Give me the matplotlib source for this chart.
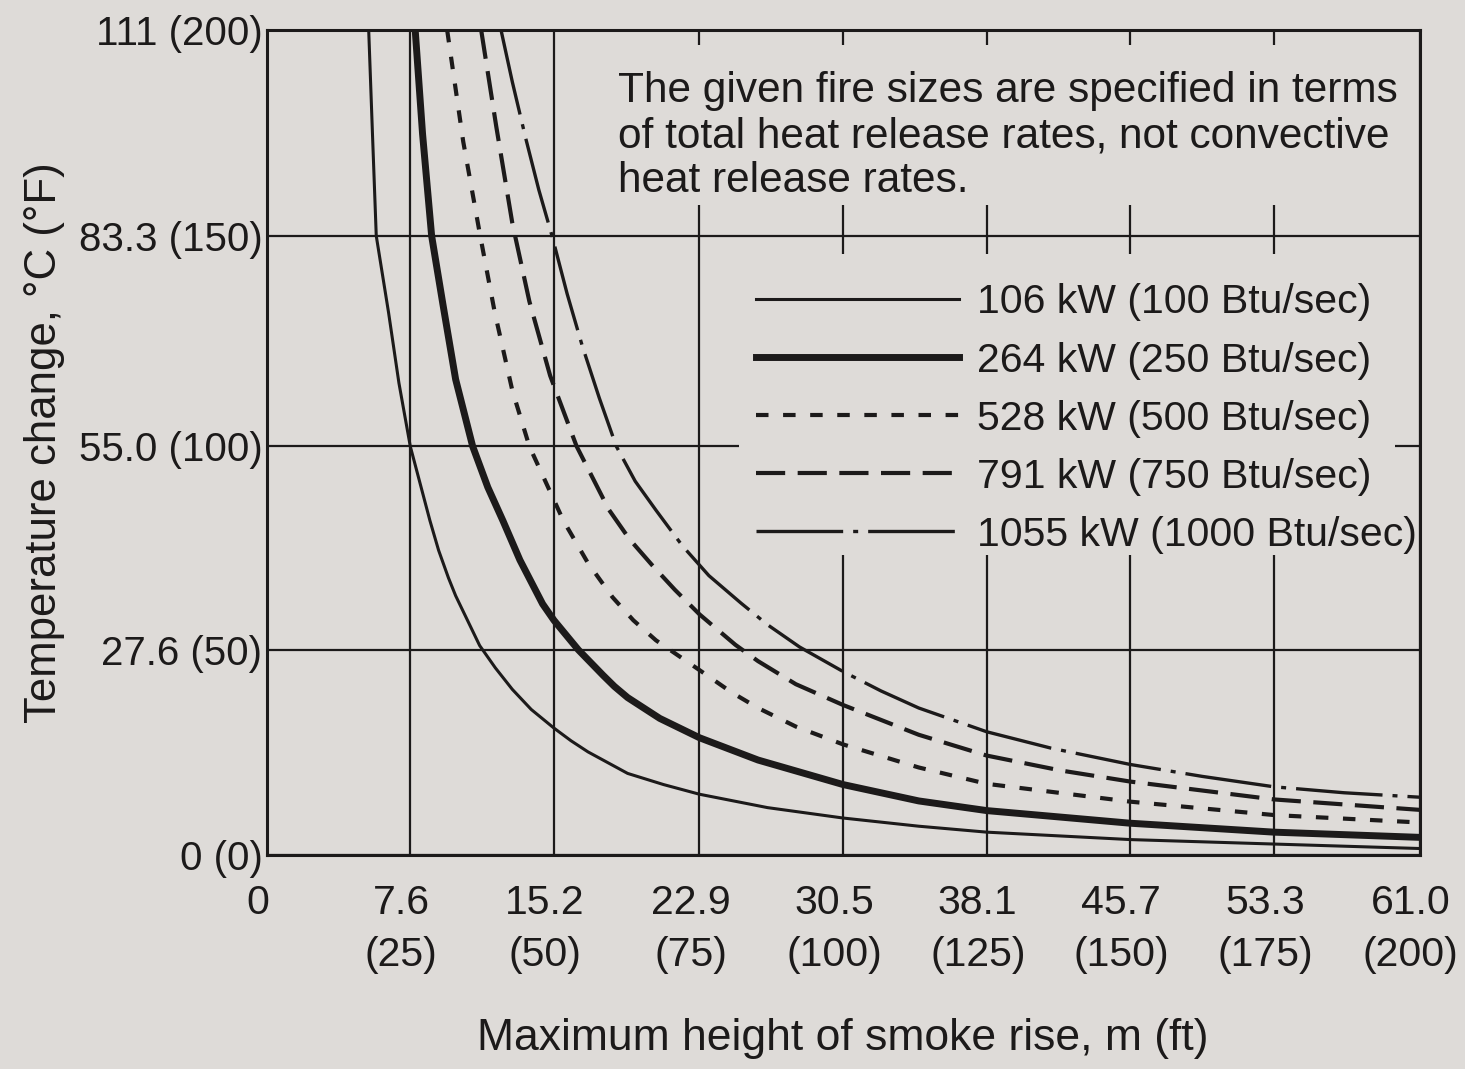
import matplotlib
matplotlib.use("Agg")
import matplotlib.pyplot as plt
from matplotlib.patches import Rectangle
from matplotlib.transforms import ScaledTranslation

plt.rcParams['font.family'] = ['Liberation Sans', 'DejaVu Sans']

# Curves: height (m) vs temperature change (deg C)
h_106 = [5.4, 5.6, 5.8, 6.45, 7.0, 7.6, 8.64, 9.1, 9.62, 10.0, 11.27, 12.1, 13.0, 14.0, 15.2,
         16.1, 17.0, 19.1, 21.0, 22.9, 24.5, 26.5, 30.5, 34.5, 38.1, 45.7, 53.3, 61.0]
t_106 = [111, 97, 83.3, 73, 63.5, 55, 45, 41.0, 37.3, 34.9, 28.2, 25.2, 22.3, 19.6, 17.1,
         15.4, 13.9, 11.0, 9.5, 8.2, 7.4, 6.4, 5.0, 3.9, 3.1, 2.1, 1.5, 0.9]

h_264 = [7.86, 8.25, 8.73, 9.32, 10.0, 10.9, 11.7, 12.5, 13.4, 14.6, 15.2, 16.5, 17.8, 18.4,
         19.1, 20.8, 22.9, 26.0, 30.5, 34.5, 38.1, 45.7, 53.3, 61.0]
t_264 = [111, 97, 83.3, 74.2, 64, 55, 49.5, 45, 39.7, 33.8, 31.6, 27.6, 24.2, 22.7,
         21.2, 18.4, 15.8, 12.8, 9.5, 7.3, 6.0, 4.3, 3.1, 2.4]

h_528 = [9.55, 10.4, 11.3, 12.07, 13.0, 13.9, 15.7, 17.0, 18.3, 19.4, 20.6, 22.9, 24.6, 26.0,
         28.0, 30.5, 34.5, 38.1, 45.7, 53.3, 61.0]
t_528 = [111, 96, 83.3, 73, 62.5, 55, 45, 39.3, 34.7, 31.6, 28.9, 24.9, 21.9, 19.8,
         17.3, 14.9, 11.8, 9.6, 7.2, 5.4, 4.4]

h_791 = [11.35, 12.15, 13.0, 13.9, 15.0, 16.4, 18.1, 19.2, 20.4, 21.6, 22.9, 24.8, 26.0,
         28.0, 30.5, 34.5, 38.1, 42.0, 45.7, 53.3, 61.0]
t_791 = [111, 98, 85, 74.5, 64.5, 55, 46.5, 42.5, 39.0, 35.7, 32.4, 28.3, 26.1,
         23.0, 20.2, 16.2, 13.4, 11.4, 9.9, 7.5, 6.1]

h_1055 = [12.4, 13.0, 13.7, 14.4, 15.1, 15.9, 16.7, 17.6, 18.5, 19.5, 20.6, 22.0, 23.4, 25.1,
          26.5, 28.2, 30.5, 32.5, 34.5, 38.1, 41.5, 45.7, 49.5, 53.3, 57.0, 61.0]
t_1055 = [111, 104, 96.5, 89.5, 83.3, 75.5, 68.5, 61.5, 55, 50.3, 46.4, 41.6, 37.6, 33.9,
          31.0, 28.0, 24.7, 22.1, 19.8, 16.6, 14.4, 12.2, 10.6, 9.2, 8.4, 7.8]

labels = ['106 kW (100 Btu/sec)', '264 kW (250 Btu/sec)', '528 kW (500 Btu/sec)',
          '791 kW (750 Btu/sec)', '1055 kW (1000 Btu/sec)']

x_ticks = [0, 7.6, 15.2, 22.9, 30.5, 38.1, 45.7, 53.3, 61.0]
x_ticklabels = ['0', '7.6\n(25)', '15.2\n(50)', '22.9\n(75)', '30.5\n(100)',
                '38.1\n(125)', '45.7\n(150)', '53.3\n(175)', '61.0\n(200)']
y_ticks = [0, 27.6, 55.0, 83.3, 111]
y_ticklabels = ['0 (0)', '27.6 (50)', '55.0 (100)', '83.3 (150)', '111 (200)']

note = ("The given fire sizes are specified in terms\n"
        "of total heat release rates, not convective\n"
        "heat release rates.")

bg = '#dedbd8'
ink = '#1c1a1a'

fig = plt.figure(figsize=(14.65, 10.69), dpi=100, facecolor=bg)
ax = fig.add_axes([0.182, 0.200, 0.787, 0.772], facecolor=bg)

ax.plot(h_106, t_106, color=ink, lw=2.2, label=labels[0], zorder=3)
ax.plot(h_264, t_264, color=ink, lw=5.0, label=labels[1], zorder=3)
ax.plot(h_528, t_528, color=ink, lw=3.0, linestyle=(0, (3, 3.5)), label=labels[2], zorder=3)
ax.plot(h_791, t_791, color=ink, lw=3.0, linestyle=(0, (7, 3)), label=labels[3], zorder=3)
ax.plot(h_1055, t_1055, color=ink, lw=2.4, linestyle=(0, (26, 3, 1.5, 3)), label=labels[4], zorder=3)

ax.set_xlim(0, 61.0)
ax.set_ylim(0, 111)
ax.set_xticks(x_ticks)
ax.set_xticklabels(x_ticklabels, fontsize=29.5, linespacing=1.45, color=ink)
ax.set_yticks(y_ticks)
ax.set_yticklabels(y_ticklabels, fontsize=29, color=ink)
ax.tick_params(axis='x', length=0, pad=21)
ax.tick_params(axis='y', length=0, pad=3)
# the printed x labels sit a little left of their grid lines
shift = ScaledTranslation(-0.09, 0, fig.dpi_scale_trans)
for lbl in ax.get_xticklabels():
    lbl.set_transform(lbl.get_transform() + shift)

ax.grid(True, color=ink, lw=1.6, zorder=0.5)
ax.set_axisbelow(True)
for s in ax.spines.values():
    s.set_color(ink)
    s.set_linewidth(2.2)

# blank areas behind the note and the legend hide the grid
ax.add_patch(Rectangle((17.4, 87.5), 43.0, 21.5, facecolor=bg, edgecolor='none', zorder=1))
ax.add_patch(Rectangle((25.0, 40.4), 34.7, 40.4, facecolor=bg, edgecolor='none', zorder=1))
ax.text(18.6, 105.5, note, fontsize=30.5, color=ink, va='top', ha='left',
        linespacing=1.17, zorder=4)

leg = ax.legend(loc='upper left', bbox_to_anchor=(0.394, 0.735), fontsize=29.5,
                frameon=False, handlelength=4.95, handletextpad=0.45,
                labelspacing=0.49, borderpad=0.35)
for t in leg.get_texts():
    t.set_color(ink)

ax.set_xlabel('Maximum height of smoke rise, m (ft)', fontsize=32, color=ink, labelpad=32)
ax.set_ylabel('Temperature change, \u00b0C (\u00b0F)', fontsize=31.5, color=ink, labelpad=10)

fig.savefig('out.png', dpi=100, facecolor=bg)
